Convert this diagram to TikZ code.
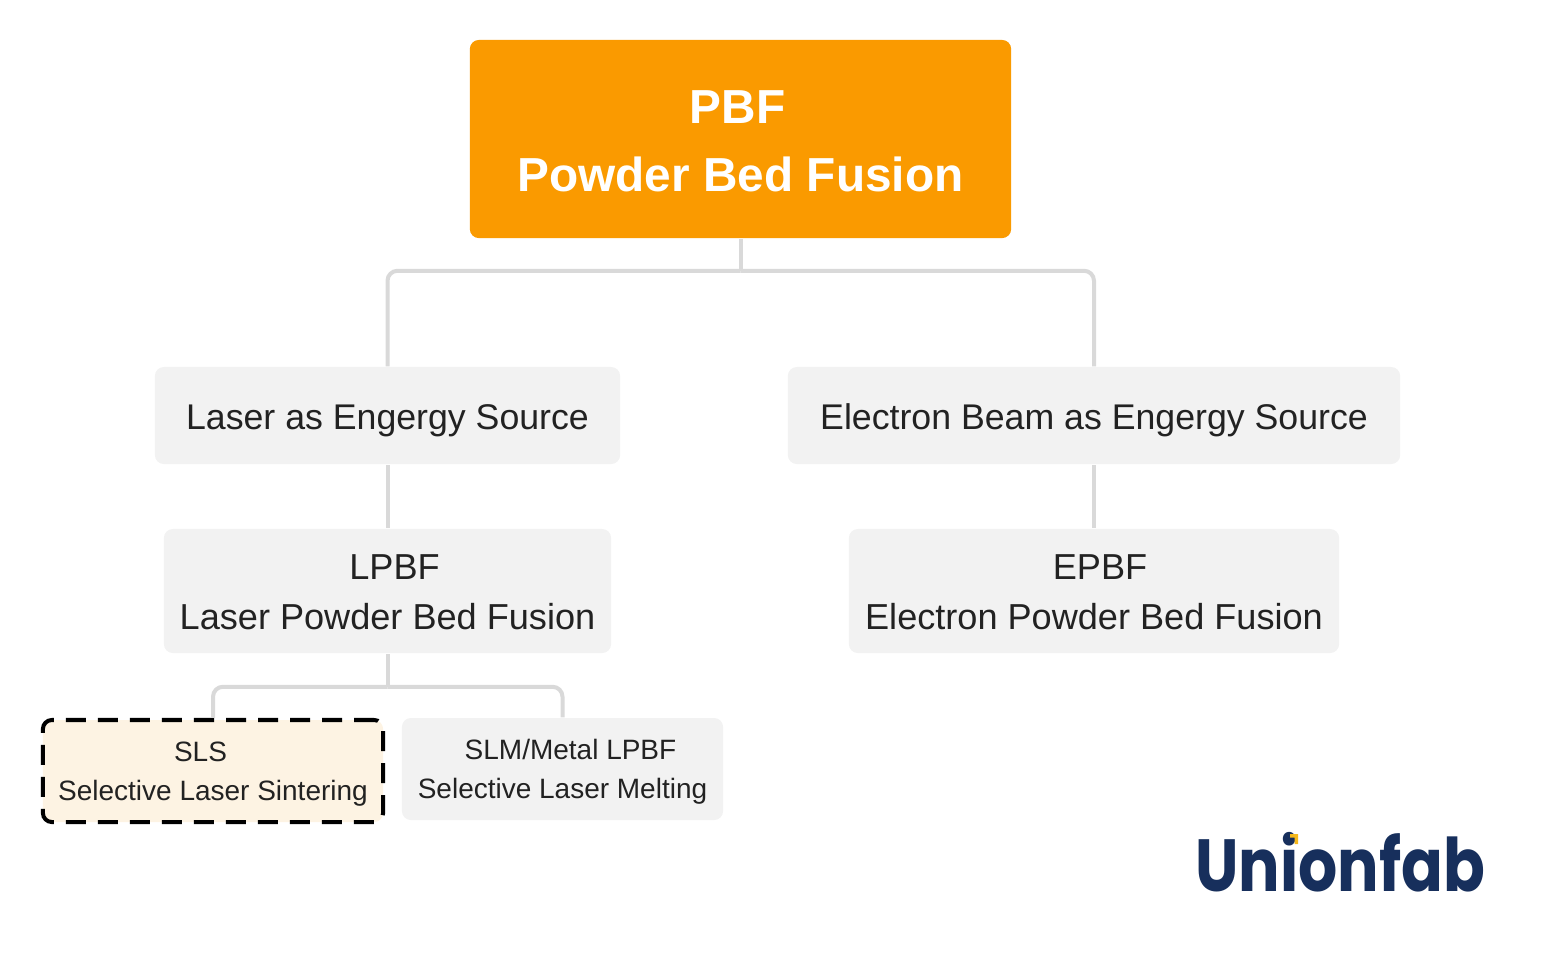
\documentclass[tikz,border=0pt]{standalone}
\usepackage{fontspec}
\setmainfont{Liberation Sans}
\newfontfamily\logofont{Poppins}
\definecolor{boxgray}{HTML}{F2F2F2}
\definecolor{linegray}{HTML}{D9D9D9}
\definecolor{pbforange}{HTML}{FA9A00}
\definecolor{slscream}{HTML}{FDF3E3}
\definecolor{textdark}{HTML}{222222}
\definecolor{logoblue}{HTML}{172F5C}
\definecolor{logoyellow}{HTML}{F5B81C}
\newcommand{\topstrut}[1]{\rule{0pt}{#1}}
\tikzset{
  basebox/.style = {rounded corners=0.09cm, inner sep=0pt, align=center, text=textdark},
  midbox/.style = {basebox, fill=boxgray, font=\fontsize{10.15}{14.2}\selectfont},
  twolinebox/.style = {midbox, font=\fontsize{10.27}{14.2}\selectfont},
  smallbox/.style = {basebox, fill=boxgray, font=\fontsize{7.96}{11.1}\selectfont},
  conn/.style = {draw=linegray, line width=0.04cm, rounded corners=0.1cm}
}
\begin{document}
\begin{tikzpicture}[x=0.01cm, y=-0.01cm]
\useasboundingbox (0,0) rectangle (1558,959);
\node (pbf) [basebox, fill=pbforange, text=white, font=\fontsize{13.58}{19.3}\selectfont\bfseries,
  minimum width=5.41cm, minimum height=1.98cm] at (740.5,139) {\topstrut{0.37cm}PBF\hspace*{0.06cm}\\Powder Bed Fusion};
\node (laser) [midbox, minimum width=4.65cm, minimum height=0.97cm] at (387.5,415.5) {\topstrut{0.35cm}Laser as Engergy Source};
\node (electron) [midbox, minimum width=6.12cm, minimum height=0.97cm] at (1094,415.5) {\topstrut{0.35cm}Electron Beam as Engergy Source};
\node (lpbf) [twolinebox, minimum width=4.47cm, minimum height=1.24cm] at (387.5,591) {\topstrut{0.28cm}\hspace*{0.14cm}LPBF\\Laser Powder Bed Fusion};
\node (epbf) [twolinebox, minimum width=4.90cm, minimum height=1.24cm] at (1094,591) {\topstrut{0.28cm}\hspace*{0.12cm}EPBF\\Electron Powder Bed Fusion};
\node (sls) [smallbox, fill=slscream, draw=black, line width=0.04cm, dash pattern=on 0.2cm off 0.12cm,
  minimum width=3.40cm, minimum height=1.02cm] at (213,771) {\topstrut{0.25cm}SLS\hspace*{0.25cm}\\Selective Laser Sintering};
\node (slm) [smallbox, minimum width=3.21cm, minimum height=1.02cm] at (562.5,769) {\topstrut{0.25cm}\hspace*{0.16cm}SLM/Metal LPBF\\Selective Laser Melting};
% tree lines
\draw [conn] (pbf.south) -- ++(0,32) coordinate (pbfjoin);
\draw [conn] (pbfjoin) -| (laser.north);
\draw [conn] (pbfjoin) -| (electron.north);
\draw [conn] (laser.south) -- (lpbf.north);
\draw [conn] (electron.south) -- (epbf.north);
\draw [conn] (lpbf.south) -- ++(0,33) coordinate (lpbfjoin);
\draw [conn] (lpbfjoin) -| (sls.north);
\draw [conn] (lpbfjoin) -| (slm.north);
% logo
\node (logo) [inner sep=0pt, text=logoblue, font=\fontsize{21}{21}\logofont\bfseries, xscale=0.834, transform shape] at (1340,862) {Unionfab};
\fill [logoyellow] (1290,834) -- (1298,834) -- (1298,844) -- (1294.5,844) -- (1294.5,837.5) -- (1290,837.5) -- cycle;
\end{tikzpicture}
\end{document}
